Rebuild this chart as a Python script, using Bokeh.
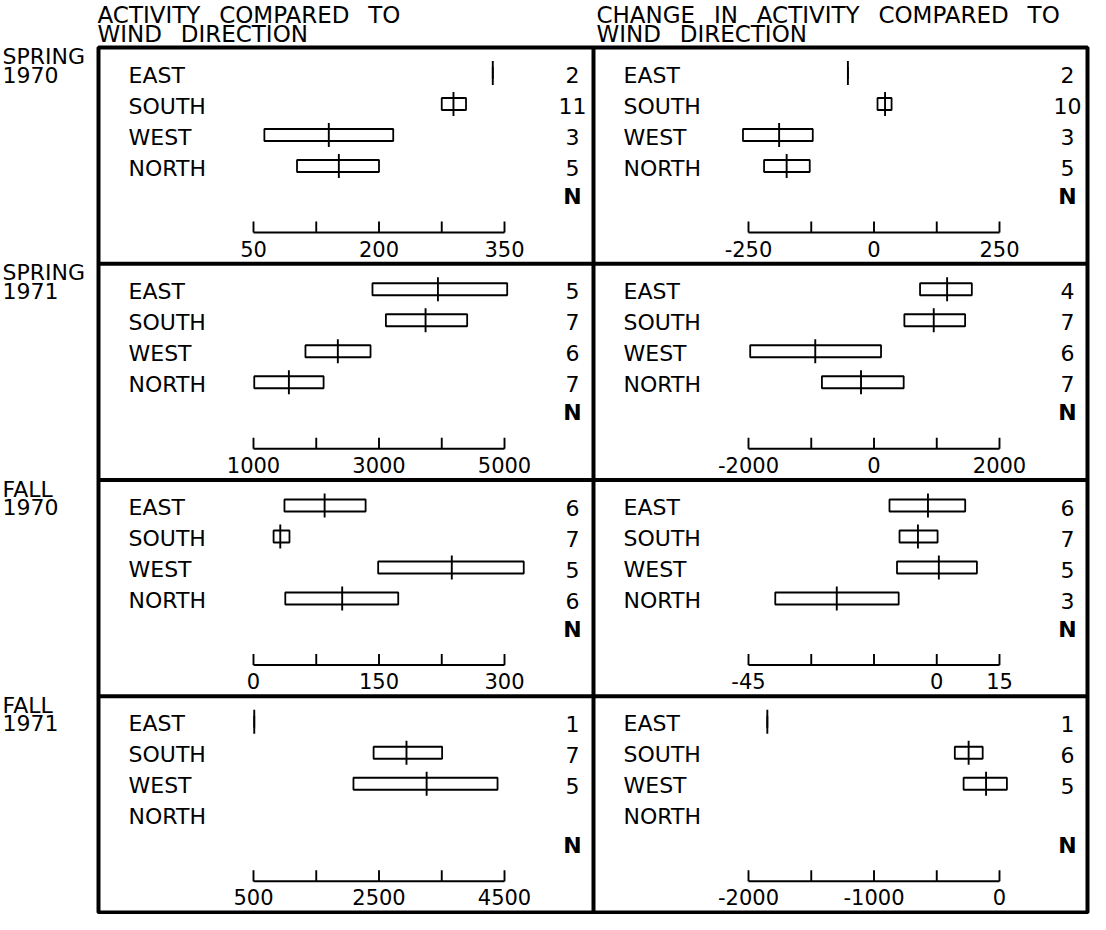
from bokeh.plotting import figure
from bokeh.models import Range1d, ColumnDataSource
from bokeh.core.properties import value
from bokeh.embed import file_html
from bokeh.resources import INLINE

NAN = float("nan")
GAP = "\u00a0\u2002"   # wide word gap (SVG collapses plain double spaces)

# ---------------- data ----------------
categories = ["EAST", "SOUTH", "WEST", "NORTH"]
season_line1 = ["SPRING", "SPRING", "FALL", "FALL"]
season_line2 = ["1970", "1971", "1970", "1971"]
title_line1 = [GAP.join(["ACTIVITY", "COMPARED", "TO"]),
               GAP.join(["CHANGE", "IN", "ACTIVITY", "COMPARED", "TO"])]
title_line2 = [GAP.join(["WIND", "DIRECTION"]), GAP.join(["WIND", "DIRECTION"])]
n_header = "N"

# Spring 1970 - activity
sp70_act_q1 = [336, 275, 63, 102]
sp70_act_med = [336, 289, 140, 152]
sp70_act_q3 = [336, 304, 217, 200]
sp70_act_n = ["2", "11", "3", "5"]
sp70_act_ticks = [50, 125, 200, 275, 350]
sp70_act_ticklabels = ["50", "", "200", "", "350"]

# Spring 1970 - change in activity
sp70_chg_q1 = [-52, 7, -261, -219]
sp70_chg_med = [-52, 22, -189, -174]
sp70_chg_q3 = [-52, 35, -122, -128]
sp70_chg_n = ["2", "10", "3", "5"]
sp70_chg_ticks = [-250, -125, 0, 125, 250]
sp70_chg_ticklabels = ["-250", "", "0", "", "250"]

# Spring 1971 - activity
sp71_act_q1 = [2896, 3110, 1828, 1012]
sp71_act_med = [3939, 3742, 2344, 1564]
sp71_act_q3 = [5043, 4405, 2865, 2117]
sp71_act_n = ["5", "7", "6", "7"]
sp71_act_ticks = [1000, 2000, 3000, 4000, 5000]
sp71_act_ticklabels = ["1000", "", "3000", "", "5000"]

# Spring 1971 - change in activity
sp71_chg_q1 = [734, 484, -1973, -830]
sp71_chg_med = [1165, 952, -936, -207]
sp71_chg_q3 = [1559, 1452, 112, 473]
sp71_chg_n = ["4", "7", "6", "7"]
sp71_chg_ticks = [-2000, -1000, 0, 1000, 2000]
sp71_chg_ticklabels = ["-2000", "", "0", "", "2000"]

# Fall 1970 - activity
fa70_act_q1 = [37, 24, 149, 38]
fa70_act_med = [85, 32, 237, 106]
fa70_act_q3 = [134, 43, 323, 173]
fa70_act_n = ["6", "7", "5", "6"]
fa70_act_ticks = [0, 75, 150, 225, 300]
fa70_act_ticklabels = ["0", "", "150", "", "300"]

# Fall 1970 - change in activity
fa70_chg_q1 = [-11.3, -8.9, -9.5, -38.6]
fa70_chg_med = [-2.1, -4.5, 0.5, -23.9]
fa70_chg_q3 = [6.8, 0.2, 9.6, -9.1]
fa70_chg_n = ["6", "7", "5", "3"]
fa70_chg_ticks = [-45, -30, -15, 0, 15]
fa70_chg_ticklabels = ["-45", "", "", "0", "15"]

# Fall 1971 - activity (no NORTH data)
fa71_act_q1 = [512, 2414, 2093, NAN]
fa71_act_med = [512, 2938, 3259, NAN]
fa71_act_q3 = [512, 3506, 4389, NAN]
fa71_act_n = ["1", "7", "5", ""]
fa71_act_ticks = [500, 1500, 2500, 3500, 4500]
fa71_act_ticklabels = ["500", "", "2500", "", "4500"]

# Fall 1971 - change in activity (no NORTH data)
fa71_chg_q1 = [-1850, -356, -286, NAN]
fa71_chg_med = [-1850, -246, -107, NAN]
fa71_chg_q3 = [-1850, -134, 59, NAN]
fa71_chg_n = ["1", "6", "5", ""]
fa71_chg_ticks = [-2000, -1500, -1000, -500, 0]
fa71_chg_ticklabels = ["-2000", "", "-1000", "", "0"]

panels = [
    (0, 0, sp70_act_q1, sp70_act_med, sp70_act_q3, sp70_act_n, sp70_act_ticks, sp70_act_ticklabels),
    (0, 1, sp70_chg_q1, sp70_chg_med, sp70_chg_q3, sp70_chg_n, sp70_chg_ticks, sp70_chg_ticklabels),
    (1, 0, sp71_act_q1, sp71_act_med, sp71_act_q3, sp71_act_n, sp71_act_ticks, sp71_act_ticklabels),
    (1, 1, sp71_chg_q1, sp71_chg_med, sp71_chg_q3, sp71_chg_n, sp71_chg_ticks, sp71_chg_ticklabels),
    (2, 0, fa70_act_q1, fa70_act_med, fa70_act_q3, fa70_act_n, fa70_act_ticks, fa70_act_ticklabels),
    (2, 1, fa70_chg_q1, fa70_chg_med, fa70_chg_q3, fa70_chg_n, fa70_chg_ticks, fa70_chg_ticklabels),
    (3, 0, fa71_act_q1, fa71_act_med, fa71_act_q3, fa71_act_n, fa71_act_ticks, fa71_act_ticklabels),
    (3, 1, fa71_chg_q1, fa71_chg_med, fa71_chg_q3, fa71_chg_n, fa71_chg_ticks, fa71_chg_ticklabels),
]

# ---------------- layout (pixels) ----------------
W, H = 1090, 914
ROW_LABEL_X = 2
PANEL_LEFT = [98, 593]
FRAME_RIGHT = 1087
TITLE_X = [97, 596]
TITLE_Y = [14, 33]
ROW_TOP0 = 47
ROW_H = 216.25
AX_L, AX_R = 155, 406      # axis span inside a panel
CAT_X, N_X = 30, 474
FIRST, PITCH = 25.5, 31    # first category centre and spacing (px)
AXIS_Y = (185 - FIRST) / PITCH
TICK_LEN = 11 / PITCH
TICKLAB_Y = (201 - FIRST) / PITCH
TEXT_SHIFT = 2 / PITCH
N_HEAD_Y = 3.92 + TEXT_SHIFT
BOX_H = 12 / PITCH
MED_HALF = 12 / PITCH

FONT = value("DejaVu Sans")
FS = "22px"

p = figure(width=W, height=H, output_backend="svg", toolbar_location=None,
           x_range=Range1d(0, W), y_range=Range1d(H, 0),
           x_axis_location=None, y_axis_location=None,
           min_border=0, outline_line_color=None)
p.xgrid.visible = False
p.ygrid.visible = False
p.background_fill_color = "white"
p.border_fill_color = "white"

# row ranges (category index units, increasing downward)
for r in range(4):
    rt = ROW_TOP0 + r * ROW_H
    p.extra_y_ranges[f"row{r}"] = Range1d(start=(H - rt - FIRST) / PITCH,
                                          end=(-rt - FIRST) / PITCH)

# frame lines
bottom = ROW_TOP0 + 4 * ROW_H
p.quad(left=[PANEL_LEFT[0]], right=[FRAME_RIGHT], top=[ROW_TOP0], bottom=[bottom],
       fill_color=None, line_color="black", line_width=4)
row_lines_y = [ROW_TOP0 + k * ROW_H for k in (1, 2, 3)]
p.segment(x0=[PANEL_LEFT[0]] * 3, x1=[FRAME_RIGHT] * 3, y0=row_lines_y, y1=row_lines_y,
          line_color="black", line_width=4)
p.segment(x0=[PANEL_LEFT[1]], x1=[PANEL_LEFT[1]], y0=[ROW_TOP0], y1=[bottom],
          line_color="black", line_width=4)

# column titles
for c in range(2):
    p.text(x=[TITLE_X[c]] * 2, y=TITLE_Y, text=[title_line1[c], title_line2[c]],
           text_font=FONT, text_font_size="23px", text_color="black",
           text_align="left", text_baseline="middle")

# season labels
for r in range(4):
    rt = ROW_TOP0 + r * ROW_H
    p.text(x=[ROW_LABEL_X] * 2, y=[rt + 9, rt + 27], text=[season_line1[r], season_line2[r]],
           text_font=FONT, text_font_size=FS, text_color="black",
           text_align="left", text_baseline="middle")

ypos = list(range(len(categories)))

for (r, c, q1, med, q3, nvals, ticks, ticklabels) in panels:
    pl = PANEL_LEFT[c]
    lo, hi = ticks[0], ticks[-1]
    u = (hi - lo) / (AX_R - AX_L)
    start = lo - (pl + AX_L) * u
    xname, yname = f"x{r}{c}", f"row{r}"
    p.extra_x_ranges[xname] = Range1d(start=start, end=start + W * u)

    src = ColumnDataSource(dict(
        y=ypos, q1=q1, med=med, q3=q3,
        m0=[y - MED_HALF for y in ypos], m1=[y + MED_HALF for y in ypos],
    ))
    p.hbar(y="y", left="q1", right="q3", height=BOX_H, source=src,
           fill_color=None, line_color="black", line_width=1.8,
           x_range_name=xname, y_range_name=yname)
    p.segment(x0="med", x1="med", y0="m0", y1="m1", source=src,
              line_color="black", line_width=1.9,
              x_range_name=xname, y_range_name=yname)

    # axis drawn inside the panel
    p.segment(x0=[lo], x1=[hi], y0=[AXIS_Y], y1=[AXIS_Y], line_color="black",
              line_width=1.9, x_range_name=xname, y_range_name=yname)
    p.segment(x0=ticks, x1=ticks, y0=[AXIS_Y] * len(ticks), y1=[AXIS_Y - TICK_LEN] * len(ticks),
              line_color="black", line_width=1.9, x_range_name=xname, y_range_name=yname)
    p.text(x=ticks, y=[TICKLAB_Y] * len(ticks), text=ticklabels,
           text_font=FONT, text_font_size="21px", text_color="black",
           text_align="center", text_baseline="middle",
           x_range_name=xname, y_range_name=yname)

    # category names and N values
    p.text(x=[pl + CAT_X] * len(categories), y=[y + TEXT_SHIFT for y in ypos], text=categories,
           text_font=FONT, text_font_size=FS, text_color="black",
           text_align="left", text_baseline="middle", y_range_name=yname)
    p.text(x=[pl + N_X] * len(nvals), y=[y + TEXT_SHIFT for y in ypos], text=nvals,
           text_font=FONT, text_font_size=FS, text_color="black",
           text_align="center", text_baseline="middle", y_range_name=yname)
    p.text(x=[pl + N_X], y=[N_HEAD_Y], text=[n_header],
           text_font=FONT, text_font_size=FS, text_font_style="bold", text_color="black",
           text_align="center", text_baseline="middle", y_range_name=yname)

open("out.html", "w").write(file_html(p, INLINE))
